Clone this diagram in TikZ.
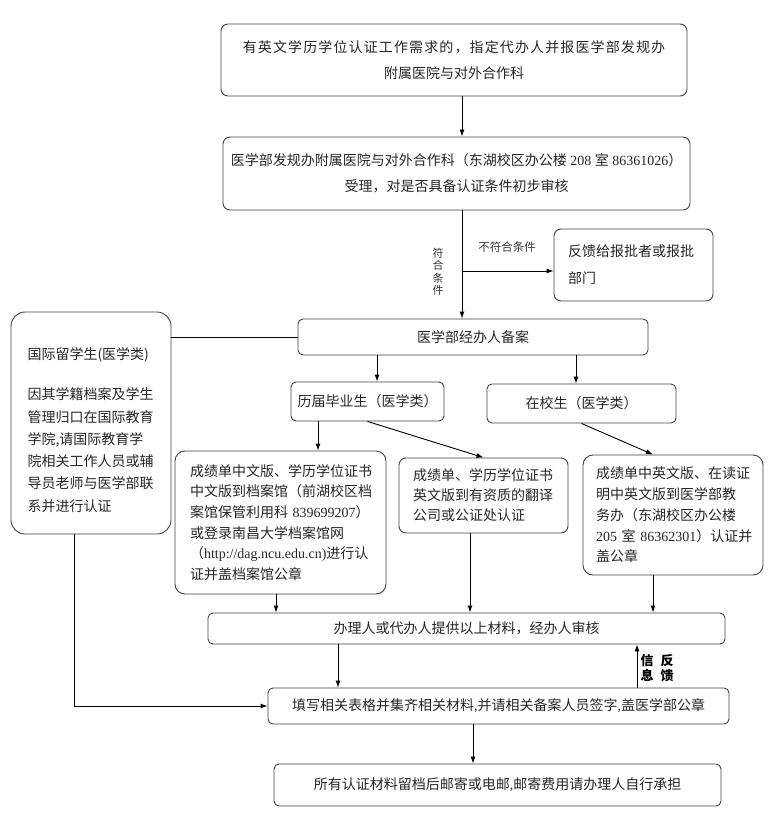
\documentclass[tikz,border=0pt]{standalone}
\usepackage{fontspec}
\setmainfont{Noto Sans CJK SC}
\newfontfamily\lat{Liberation Serif}
\newfontfamily\widecjk[LetterSpace=8]{Noto Sans CJK SC}
\usetikzlibrary{arrows.meta}
\tikzset{
  box/.style={draw=black!75, line width=0.9pt, rounded corners=7pt,
    inner sep=0pt, align=center, text=black!85},
  lbox/.style={box, align=left},
  arr/.style={-{Latex[length=7pt,width=5pt]}, line width=0.9pt},
  link/.style={line width=0.9pt},
}

\begin{document}
\begin{tikzpicture}[x=1pt,y=-1pt,font=\fontsize{14}{26}\selectfont]
    \useasboundingbox (0,0) rectangle (777,826);
    % boxes
    \node[box, minimum width=466, minimum height=72] (req) at (454,60)
      {{\widecjk 有英文学历学位认证工作需求的，指定代办人并报医学部发规办}\\附属医院与对外合作科};
    \node[box, minimum width=467, minimum height=73] (office) at (456.5,173.5)
      {医学部发规办附属医院与对外合作科（东湖校区办公楼{\lat\ 208 }室{\lat\ 86361026}）\\受理，对是否具备认证条件初步审核};
    \node[lbox, text width=131, inner xsep=14, minimum height=72,
      font=\fontsize{14}{27}\selectfont] (back) at (633.5,265)
      {反馈给报批者或报批\\部门};
    \node[box, minimum width=350, minimum height=36, rounded corners=5pt] (record) at (473,337)
      {医学部经办人备案};
    \node[box, minimum width=153, minimum height=39, rounded corners=5pt] (grad) at (367.5,401.5)
      {历届毕业生（医学类）};
    \node[box, minimum width=189, minimum height=39, rounded corners=5pt] (cur) at (581.5,403.5)
      {在校生（医学类）};
    \node[lbox, text width=127, inner xsep=16.5, minimum height=222, rounded corners=14pt,
      font=\fontsize{14}{22.3}\selectfont] (intl) at (91,423)
      {\rule{0pt}{26pt}国际留学生(医学类)\\[18pt]因其学籍档案及学生\\管理归口在国际教育\\学院,请国际教育学\\院相关工作人员或辅\\导员老师与医学部联\\系并进行认证};
    \node[lbox, text width=181, inner xsep=15, minimum height=143, rounded corners=10pt,
      font=\fontsize{14}{20.6}\selectfont] (cnver) at (280.5,522.5)
      {成绩单中文版、学历学位证书\\中文版到档案馆（前湖校区档\\案馆保管利用科{\lat\ 839699207}）\\或登录南昌大学档案馆网\\（{\lat http://dag.ncu.edu.cn)}进行认\\证并盖档案馆公章};
    \node[lbox, text width=141, inner xsep=14, minimum height=75,
      font=\fontsize{14}{20}\selectfont] (enver) at (483.5,495.5)
      {成绩单、学历学位证书\\英文版到有资质的翻译\\公司或公证处认证};
    \node[lbox, text width=154, inner xsep=13, minimum height=120, rounded corners=10pt,
      font=\fontsize{14}{20.7}\selectfont] (dept) at (673,515)
      {成绩单中英文版、在读证\\明中英文版到医学部教\\务办（东湖校区办公楼\\\mbox{{\lat 205 }室{\lat\ 86362301}）认证并}\\盖公章};
    \node[box, minimum width=517, minimum height=31, rounded corners=5pt] (check) at (466.5,628.5)
      {办理人或代办人提供以上材料，经办人审核};
    \node[box, minimum width=461, minimum height=36, rounded corners=5pt] (forms) at (498.5,706)
      {填写相关表格并集齐相关材料{\lat ,}并请相关备案人员签字{\lat ,}盖医学部公章};
    \node[box, minimum width=447, minimum height=42, rounded corners=5pt] (mail) at (497.5,785)
      {所有认证材料留档后邮寄或电邮{\lat ,}邮寄费用请办理人自行承担};
    % labels
    \node[font=\fontsize{11.5}{14}\selectfont, text=black!80] (nolab) at (507,247) {不符合条件};
    \node[font=\fontsize{11}{12.5}\selectfont, align=center, text=black!80] (yeslab) at (438,272)
      {符\\合\\条\\件};
    \node[font=\bfseries\fontsize{13}{15}\selectfont, align=center] (fblab) at (657,668)
      {信\hspace{7pt}反\\息\hspace{7pt}馈};
    % columns of the arrows
    \coordinate (xmain) at (462,0);
    \coordinate (xgrad) at (377,0);
    \coordinate (xcur) at (576,0);
    \coordinate (xcn) at (318,0);
    \coordinate (xdept) at (653,0);
    \coordinate (xh) at (276,0);
    \coordinate (xi) at (470,0);
    \coordinate (xk) at (338,0);
    \coordinate (xfb) at (637,0);
    \coordinate (xm) at (473,0);
    \coordinate (xintl) at (74,0);
    \coordinate (split) at (462,271);
    % connectors
    \draw[arr] (req.south -| xmain) -- (office.north -| xmain);
    \draw[arr] (office.south -| xmain) -- (record.north -| xmain);
    \draw[arr] (split) -- (split -| back.west);
    \draw[link] (record.west -| intl.east) -- (record.west);
    \draw[arr] (record.south -| xgrad) -- (grad.north -| xgrad);
    \draw[arr] (record.south -| xcur) -- (cur.north -| xcur);
    \draw[arr] (grad.south -| xcn) -- (cnver.north -| xcn);
    \draw[arr] (grad.south) -- (enver.north);
    \draw[arr] (cur.south) -- (dept.north -| xdept);
    \draw[arr] (cnver.south -| xh) -- (check.north -| xh);
    \draw[arr] (enver.south -| xi) -- (check.north -| xi);
    \draw[arr] (dept.south -| xdept) -- (check.north -| xdept);
    \draw[arr] (check.south -| xk) -- (forms.north -| xk);
    \draw[arr] (forms.north -| xfb) -- (check.south -| xfb);
    \draw[arr] (intl.south -| xintl) |- (forms.west);
    \draw[arr] (forms.south -| xm) -- (mail.north -| xm);
\end{tikzpicture}
\end{document}
